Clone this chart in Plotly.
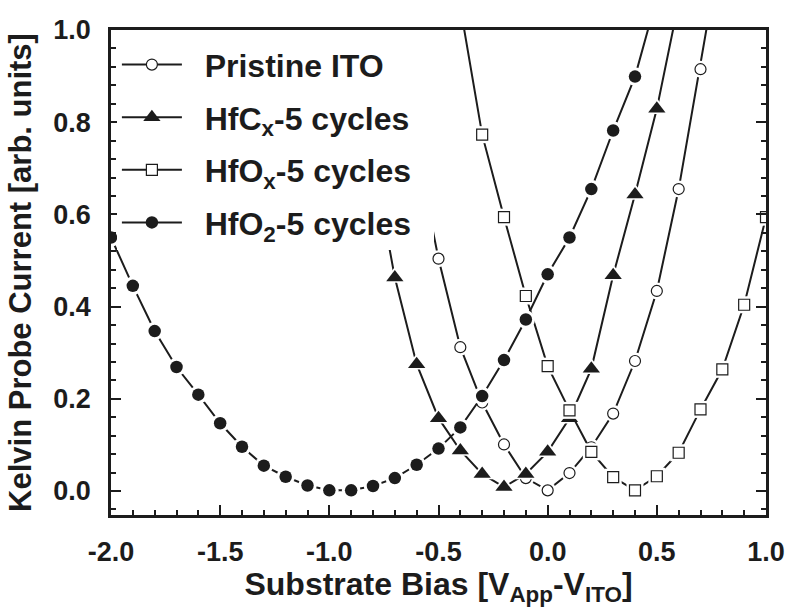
import plotly.graph_objects as go

# Kelvin probe current vs. substrate bias for four surfaces
x_pristine = [-0.6, -0.5, -0.4, -0.3, -0.2, -0.1, 0.0, 0.1, 0.2, 0.3, 0.4, 0.5, 0.6, 0.7, 0.8]
y_pristine = [0.74, 0.504, 0.312, 0.192, 0.101, 0.028, 0.0015, 0.039, 0.095, 0.168, 0.282, 0.434, 0.655, 0.915, 1.20]

x_hfcx = [-0.8, -0.7, -0.6, -0.5, -0.4, -0.3, -0.2, -0.1, 0.0, 0.1, 0.2, 0.3, 0.4, 0.5, 0.6]
y_hfcx = [0.72, 0.463, 0.275, 0.158, 0.088, 0.037, 0.0085, 0.037, 0.085, 0.158, 0.265, 0.468, 0.643, 0.829, 1.06]

x_hfox = [-0.4, -0.3, -0.2, -0.1, 0.0, 0.1, 0.2, 0.3, 0.4, 0.5, 0.6, 0.7, 0.8, 0.9, 1.0]
y_hfox = [1.05, 0.773, 0.594, 0.423, 0.271, 0.175, 0.085, 0.030, 0.0015, 0.032, 0.083, 0.177, 0.264, 0.404, 0.594]

x_hfo2 = [-2.0, -1.9, -1.8, -1.7, -1.6, -1.5, -1.4, -1.3, -1.2, -1.1, -1.0, -0.9, -0.8, -0.7,
          -0.6, -0.5, -0.4, -0.3, -0.2, -0.1, 0.0, 0.1, 0.2, 0.3, 0.4, 0.5]
y_hfo2 = [0.55, 0.445, 0.347, 0.269, 0.209, 0.147, 0.096, 0.055, 0.031, 0.012, 0.0015, 0.0015, 0.011, 0.028,
          0.057, 0.092, 0.138, 0.206, 0.284, 0.372, 0.470, 0.550, 0.655, 0.782, 0.899, 1.07]

series_names = ["Pristine ITO", "HfC<sub>x</sub>-5 cycles", "HfO<sub>x</sub>-5 cycles", "HfO<sub>2</sub>-5 cycles"]

x_tick_vals = [-2.0, -1.5, -1.0, -0.5, 0.0, 0.5, 1.0]
x_tick_text = ["-2.0", "-1.5", "-1.0", "-0.5", "0.0", "0.5", "1.0"]
y_tick_vals = [0.0, 0.2, 0.4, 0.6, 0.8, 1.0]
y_tick_text = ["0.0", "0.2", "0.4", "0.6", "0.8", "1.0"]

INK = "#1c1c1c"
FONT = "Liberation Sans, Arial, sans-serif"
NBSP = "\u00a0"

styles = [
    dict(symbol="circle", size=11, color="white", line=dict(color=INK, width=1.2)),
    dict(symbol="triangle-up", size=15, color=INK, line=dict(color=INK, width=0)),
    dict(symbol="square", size=11, color="white", line=dict(color=INK, width=1.2)),
    dict(symbol="circle", size=12.5, color=INK, line=dict(color=INK, width=0)),
]

fig = go.Figure()
data = [(x_pristine, y_pristine), (x_hfcx, y_hfcx), (x_hfox, y_hfox), (x_hfo2, y_hfo2)]
for i, ((xs, ys), name, st) in enumerate(zip(data, series_names, styles)):
    # connecting line (also provides the legend entry)
    fig.add_trace(go.Scatter(x=xs, y=ys, mode="lines+markers", name=NBSP * 2 + name + NBSP * 2,
                             legendgroup=f"s{i}",
                             line=dict(color=INK, width=2), marker=st))
    # white halo breaks the line around each symbol
    halo = dict(symbol=st["symbol"], size=st["size"] + 6, color="white", line=dict(width=0))
    fig.add_trace(go.Scatter(x=xs, y=ys, mode="markers", marker=halo, legendgroup=f"s{i}",
                             showlegend=False, hoverinfo="skip"))
    fig.add_trace(go.Scatter(x=xs, y=ys, mode="markers", marker=st, legendgroup=f"s{i}",
                             showlegend=False, hoverinfo="skip"))

fig.update_layout(
    width=797, height=607,
    margin=dict(l=111, r=21, t=30, b=82),
    paper_bgcolor="white", plot_bgcolor="white",
    font=dict(family=FONT, color=INK),
    legend=dict(x=0.009, y=0.985, xanchor="left", yanchor="top",
                bgcolor="white", borderwidth=0,
                font=dict(family=FONT, size=32, color=INK, weight="bold"),
                itemwidth=60, traceorder="grouped", tracegroupgap=8),
    showlegend=True,
)

fig.update_xaxes(
    range=[-2.0, 1.0], showgrid=False, zeroline=False,
    showline=True, linecolor=INK, linewidth=2.5, mirror=True,
    tickmode="array", tickvals=x_tick_vals, ticktext=x_tick_text,
    ticks="inside", ticklen=10, tickwidth=2, tickcolor=INK,
    minor=dict(dtick=0.1, tick0=0, ticks="inside", ticklen=5, tickwidth=2, tickcolor=INK),
    tickfont=dict(family=FONT, size=27, color=INK, weight="bold"),
    ticklabelstandoff=11,
    title=dict(text="Substrate Bias [V<sub>App</sub>-V<sub>ITO</sub>]",
               font=dict(family=FONT, size=32, color=INK, weight="bold"), standoff=5),
)
fig.update_yaxes(
    range=[-0.052, 1.0], showgrid=False, zeroline=False,
    showline=True, linecolor=INK, linewidth=2.5, mirror="ticks",
    tickmode="array", tickvals=y_tick_vals, ticktext=y_tick_text,
    ticks="inside", ticklen=10, tickwidth=2, tickcolor=INK,
    minor=dict(dtick=0.04, tick0=0, ticks="inside", ticklen=5, tickwidth=2, tickcolor=INK),
    tickfont=dict(family=FONT, size=27, color=INK, weight="bold"),
    ticklabelstandoff=12,
    title=dict(text="Kelvin Probe Current [arb. units]",
               font=dict(family=FONT, size=31, color=INK, weight="bold"), standoff=13),
)

fig.write_html("out.html")
